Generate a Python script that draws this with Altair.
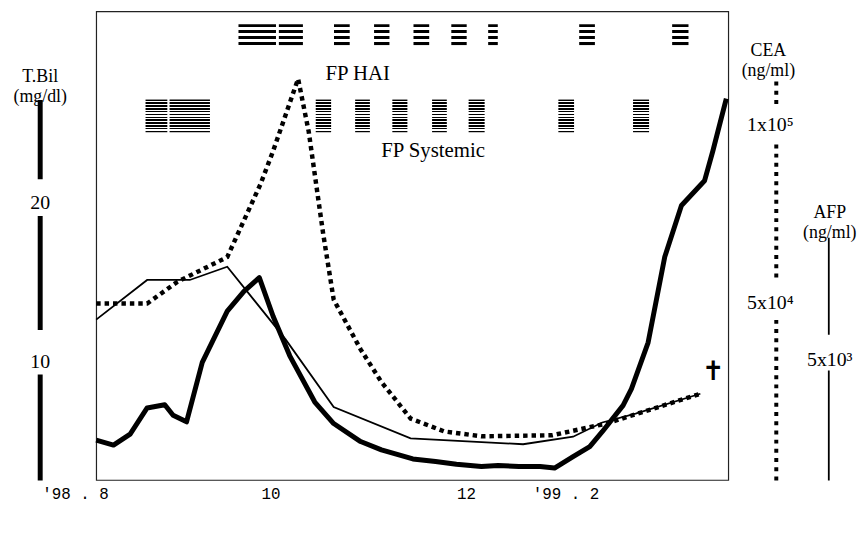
import json
import altair as alt
import pandas as pd

# ---------------- data (x = days counted from 1 Aug 1998) ----------------
tbil_day = [6.6, 12.0, 17.2, 22.5, 28.0, 30.6, 34.8, 39.7, 47.5, 52.7,
            57.5, 61.8, 67.0, 74.8, 80.7, 89.1, 95.6, 105.4, 112.5, 119.0,
            126.8, 132.0, 138.5, 145.1, 149.6, 155.4, 160.6, 164.5, 171.0, 173.6,
            178.8, 184.0, 189.2, 196.4, 199.0, 203.2]
tbil_val = [5.10, 4.79, 5.48, 7.12, 7.32, 6.66, 6.25, 9.98, 13.19, 14.43,
            15.30, 12.87, 10.39, 7.49, 6.14, 5.01, 4.49, 3.92, 3.76, 3.59,
            3.45, 3.51, 3.45, 3.45, 3.35, 4.07, 4.69, 5.63, 7.28, 8.32,
            11.22, 16.60, 19.82, 21.37, 23.24, 26.53]

afp_day = [6.6, 22.5, 35.8, 47.5, 65.7, 80.7, 104.7, 139.8, 155.4, 164.5, 174.9, 195.1]
afp_val = [6640, 8280, 8280, 8830, 5820, 3020, 1720, 1480, 1790, 2380, 2750, 3570]

cea_day = [6.6, 22.5, 31.9, 47.5, 57.9, 61.8, 69.6, 72.9, 77.4, 80.7,
           89.1, 95.6, 104.7, 115.1, 126.8, 148.9, 165.8, 195.1]
cea_val = [49700, 49700, 55800, 62800, 83400, 92650, 113000, 98200, 69500, 50800,
           36800, 27600, 17300, 13700, 12300, 12600, 15900, 24300]

hai_start = [51.0, 63.6, 80.8, 93.3, 105.6, 117.4, 128.9, 157.3, 186.3]
hai_end = [62.7, 71.1, 85.7, 98.1, 110.5, 122.2, 131.9, 162.2, 191.4]
sys_start = [22.0, 29.5, 75.1, 87.4, 99.0, 111.4, 122.8, 150.8, 174.1]
sys_end = [28.8, 42.1, 79.9, 92.0, 103.7, 116.0, 127.8, 155.7, 179.1]

x_tick_days = [0, 61, 122, 153]
x_tick_labels = ["'98 . 8", "10", "12", "'99 . 2"]
tbil_ticks = [10, 20]
cea_ticks = [50000, 100000]
cea_tick_labels = ["5x10\u2074", "1x10\u2075"]
afp_ticks = [5000]
afp_tick_labels = ["5x10\u00b3"]
row_labels = ["FP HAI", "FP Systemic"]
row_label_day = [88.2, 111.7]

# ---------------- layout / style ----------------
W, H = 638, 473
X_DOM = [6.6, 203.8]
TBIL_DOM = [2.6, 32]
CEA_DOM = [0, 132000]
AFP_DOM = [0, 19400]
ROW_DOM = [0, 1]
HAI_BAND = (0.9281, 0.9725)
SYS_BAND = (0.7421, 0.8118)
ROW_LABEL_POS = [0.867, 0.702]
SERIF = "Liberation Serif"
px_per_day = W / (X_DOM[1] - X_DOM[0])


def stripes(n, frac):
    p = 1.0 / (n * frac + (n - 1) * (1 - frac))
    b = p * frac
    stops = []
    for i in range(n):
        s = min(i * p, 1.0)
        e = min(s + b, 1.0)
        stops += [alt.GradientStop(color="black", offset=round(s, 4)),
                  alt.GradientStop(color="black", offset=round(e, 4))]
        if i < n - 1:
            stops += [alt.GradientStop(color="white", offset=round(e, 4)),
                      alt.GradientStop(color="white", offset=round(min((i + 1) * p, 1.0), 4))]
    return alt.LinearGradient(gradient="linear", stops=stops, x1=0, x2=0, y1=0, y2=1)


def dotted(segments, d=4.0, g=5.3):
    arr = []
    for L, gap_after in segments:
        k = max(1, int((L + g) // (d + g)))
        used = k * d + (k - 1) * g
        for j in range(k):
            arr.append(d)
            if j < k - 1:
                arr.append(g)
        arr.append(round(gap_after + (L - used), 2))
    return arr


def label_expr(values, labels):
    parts = ["abs(datum.value - %s) < 0.01 ? %s : " % (v, json.dumps(l, ensure_ascii=False))
             for v, l in zip(values, labels)]
    return "".join(parts) + "''"


# x axis (first label sits left of the frame)
x_vals = [max(v, X_DOM[0]) for v in x_tick_days]
first_offset = round((x_tick_days[0] - X_DOM[0]) * px_per_day, 1)
x_axis = alt.Axis(
    values=x_vals, labelExpr=label_expr(x_vals, x_tick_labels),
    domain=False, ticks=False, grid=False, title=None,
    labelPadding=14, labelBaseline="middle", labelAlign="center",
    labelFont="Liberation Mono", labelFontSize=16, labelColor="black",
    labelFlush=False, labelOverlap=False, labelBound=False,
    labelOffset={"condition": {"test": "datum.value < %s" % (X_DOM[0] + 0.01), "value": first_offset},
                 "value": 0},
)
xscale = alt.Scale(domain=X_DOM, nice=False, zero=False)


def X(field):
    return alt.X(field, type="quantitative", scale=xscale, axis=x_axis)


row_scale = alt.Scale(domain=ROW_DOM, nice=False, zero=False)

df_tbil = pd.DataFrame({"day": tbil_day, "value": tbil_val})
df_afp = pd.DataFrame({"day": afp_day, "value": afp_val})
df_cea = pd.DataFrame({"day": cea_day, "value": cea_val})
df_hai = pd.DataFrame({"start": hai_start, "end": hai_end})
df_sys = pd.DataFrame({"start": sys_start, "end": sys_end})
df_rowlab = pd.DataFrame({"label": row_labels, "day": row_label_day, "pos": ROW_LABEL_POS})
df_end = pd.DataFrame({"day": [afp_day[-1]], "value": [afp_val[-1]], "mark": ["\u271d"]})

hai = alt.Chart(df_hai).mark_rect(fill=stripes(4, 0.5)).encode(
    x=X("start"), x2="end:Q",
    y=alt.YDatum(HAI_BAND[1], scale=row_scale, axis=None), y2=alt.Y2Datum(HAI_BAND[0]))
sysb = alt.Chart(df_sys).mark_rect(fill=stripes(12, 0.55)).encode(
    x=X("start"), x2="end:Q",
    y=alt.YDatum(SYS_BAND[1], scale=row_scale, axis=None), y2=alt.Y2Datum(SYS_BAND[0]))
rowtext = alt.Chart(df_rowlab).mark_text(font=SERIF, fontSize=21, color="black",
                                         baseline="middle", align="center").encode(
    x=X("day"), y=alt.Y("pos:Q", scale=row_scale, axis=None), text="label:N")


def side_axis(orient, offset, values, labels, width, dash, pad, title, tx, ty):
    return alt.Axis(
        orient=orient, offset=offset, values=values, labelExpr=label_expr(values, labels),
        domain=True, domainColor="black", domainWidth=width, domainCap="butt", domainDash=dash,
        ticks=False, tickSize=0, grid=False,
        labelAlign="center", labelBaseline="middle", labelPadding=pad,
        labelFont=SERIF, labelFontSize=20, labelColor="black", labelOverlap=False,
        title=title, titleAngle=0, titleX=tx, titleY=ty,
        titleAlign="center", titleBaseline="bottom", titleFont=SERIF,
        titleFontSize=18, titleFontWeight="normal", titleLineHeight=20, titleColor="black")


tbil_axis = side_axis("left", 57, tbil_ticks, [str(v) for v in tbil_ticks], 5,
                      [107, 45, 115, 37, 80, 300], 0, ["T.Bil", "(mg/dl)"], 0, 75)
tbil = alt.Chart(df_tbil).mark_line(color="black", strokeWidth=5, strokeJoin="round").encode(
    x=X("day"),
    y=alt.Y("value:Q", scale=alt.Scale(domain=TBIL_DOM, nice=False, zero=False), axis=tbil_axis))

afp_axis = side_axis("right", 101, afp_ticks, afp_tick_labels, 1.8,
                     [111, 36, 98, 400], 1, ["AFP", "(ng/ml)"], 1, 212)
afp = alt.Chart(df_afp).mark_line(color="black", strokeWidth=1.8).encode(
    x=X("day"),
    y=alt.Y("value:Q", scale=alt.Scale(domain=AFP_DOM, nice=False, zero=False), axis=afp_axis))

cea_axis = side_axis("right", 48, cea_ticks, cea_tick_labels, 4,
                     dotted([(164, 41), (137, 38), (31, 500)]), -6, ["CEA", "(ng/ml)"], -8, 49)
cea = alt.Chart(df_cea).mark_line(color="black", strokeWidth=4.5, strokeDash=[4.5, 4],
                                  strokeCap="butt", strokeJoin="miter").encode(
    x=X("day"),
    y=alt.Y("value:Q", scale=alt.Scale(domain=CEA_DOM, nice=False, zero=False), axis=cea_axis))

cross = alt.Chart(df_end).mark_text(font="DejaVu Sans", fontSize=27, fontWeight="bold",
                                    color="black", dx=13, dy=-22).encode(
    x=X("day"),
    y=alt.Y("value:Q", scale=alt.Scale(domain=AFP_DOM, nice=False, zero=False), axis=None),
    text="mark:N")

chart = alt.layer(hai, sysb, rowtext, tbil, afp, cea, cross).resolve_scale(
    y="independent"
).properties(
    width=W, height=H,
    autosize=alt.AutoSizeParams(type="none"),
    padding={"left": 89, "top": 1, "right": 133, "bottom": 40},
    background="white",
).configure_view(stroke="#222", strokeWidth=1.2)

chart.save("out.html", embed_options={"renderer": "svg", "actions": False})
